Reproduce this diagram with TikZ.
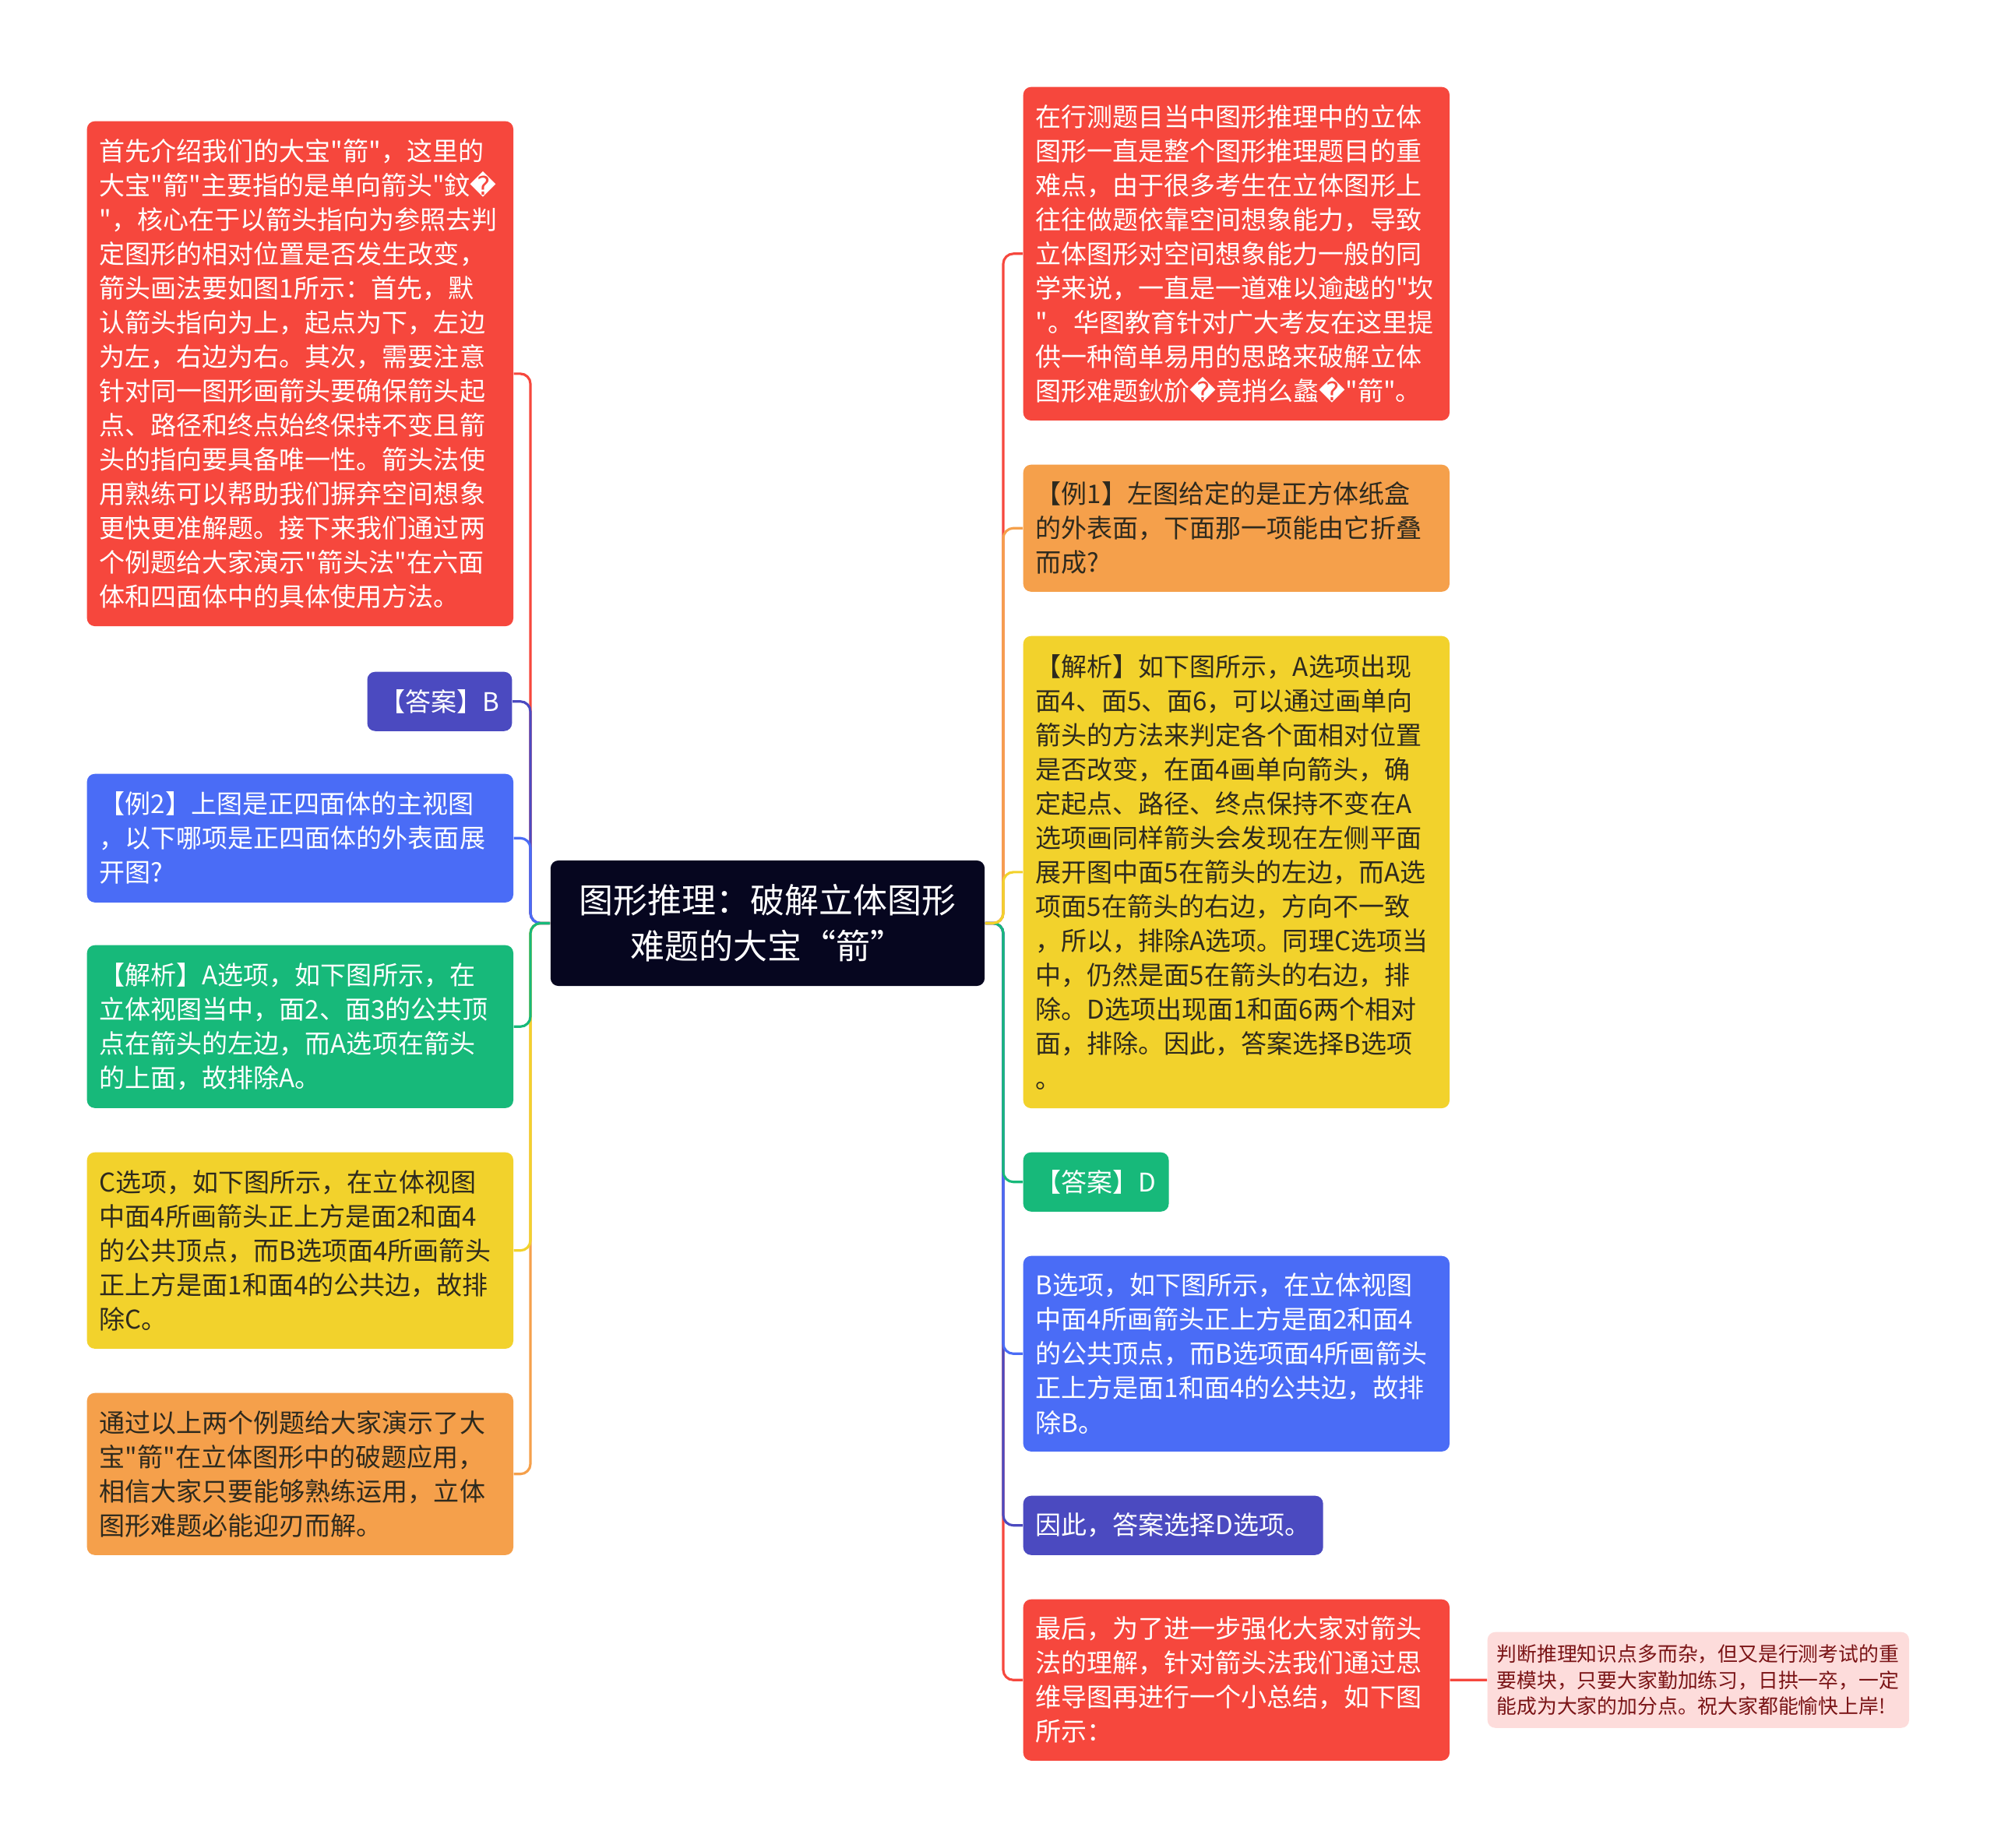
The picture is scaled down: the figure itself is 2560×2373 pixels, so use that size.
\documentclass[tikz,border=0pt]{standalone}
\usepackage{fontspec}
\setmainfont{Noto Sans CJK SC}[Ligatures=TeXOff]
\newfontfamily\symfont{DejaVu Sans}
\usepackage{xcolor}
\usetikzlibrary{calc}

\definecolor{cRed}{HTML}{F6473D}
\definecolor{cOrange}{HTML}{F5A04B}
\definecolor{cYellow}{HTML}{F2D22C}
\definecolor{cGreen}{HTML}{17B97A}
\definecolor{cBlue}{HTML}{4A6CF6}
\definecolor{cPurple}{HTML}{4B4AC0}
\definecolor{cNavy}{HTML}{06061F}
\definecolor{cPink}{HTML}{FDDCDB}
\definecolor{cDark}{HTML}{2E2A1E}
\definecolor{cMaroon}{HTML}{7A1416}

\newcommand{\badch}{{\symfont ^^^^fffd}}

\begin{document}
\begin{tikzpicture}[x=0.01cm, y=-0.01cm,
		leaf/.style={rounded corners=0.1cm, anchor=north west, text=white,
			align=left, text width=5.15cm, inner xsep=0.16cm, inner ysep=0pt,
			font=\fontsize{9.39}{12.52}\selectfont},
		tag/.style={leaf, text width=, minimum height=0.76cm},
		link/.style={line width=0.9pt, rounded corners=0.13cm}]
		\useasboundingbox (0,0) rectangle (2560,2373);

		% root
		\node[rounded corners=0.1cm, fill=cNavy, text=white, align=center,
			minimum width=5.57cm, minimum height=1.61cm,
			font=\fontsize{12.5}{16.8}\selectfont] (root) at (985.5,1185.5)
			{图形推理：破解立体图形\\难题的大宝“箭”};

		% left side
		\node[leaf, fill=cRed, minimum height=6.48cm] (l1) at (111,155)
			{首先介绍我们的大宝"箭"，这里的\\
			大宝"箭"主要指的是单向箭头"鈫\badch\\
			"，核心在于以箭头指向为参照去判\\
			定图形的相对位置是否发生改变，\\
			箭头画法要如图1所示：首先，默\\
			认箭头指向为上，起点为下，左边\\
			为左，右边为右。其次，需要注意\\
			针对同一图形画箭头要确保箭头起\\
			点、路径和终点始终保持不变且箭\\
			头的指向要具备唯一性。箭头法使\\
			用熟练可以帮助我们摒弃空间想象\\
			更快更准解题。接下来我们通过两\\
			个例题给大家演示"箭头法"在六面\\
			体和四面体中的具体使用方法。};
		\node[tag, fill=cPurple, anchor=north east] (l2) at (658,862) {【答案】B};
		\node[leaf, fill=cBlue, minimum height=1.65cm] (l3) at (111,993)
			{【例2】上图是正四面体的主视图\\
			，以下哪项是正四面体的外表面展\\
			开图?};
		\node[leaf, fill=cGreen, minimum height=2.09cm] (l4) at (111,1213)
			{【解析】A选项，如下图所示，在\\
			立体视图当中，面2、面3的公共顶\\
			点在箭头的左边，而A选项在箭头\\
			的上面，故排除A。};
		\node[leaf, fill=cYellow, text=cDark, minimum height=2.52cm] (l5) at (111,1479)
			{C选项，如下图所示，在立体视图\\
			中面4所画箭头正上方是面2和面4\\
			的公共顶点，而B选项面4所画箭头\\
			正上方是面1和面4的公共边，故排\\
			除C。};
		\node[leaf, fill=cOrange, text=cDark, minimum height=2.08cm] (l6) at (111,1788)
			{通过以上两个例题给大家演示了大\\
			宝"箭"在立体图形中的破题应用，\\
			相信大家只要能够熟练运用，立体\\
			图形难题必能迎刃而解。};

		% right side
		\node[leaf, fill=cRed, minimum height=4.28cm] (r1) at (1313,111)
			{在行测题目当中图形推理中的立体\\
			图形一直是整个图形推理题目的重\\
			难点，由于很多考生在立体图形上\\
			往往做题依靠空间想象能力，导致\\
			立体图形对空间想象能力一般的同\\
			学来说，一直是一道难以逾越的"坎\\
			"。华图教育针对广大考友在这里提\\
			供一种简单易用的思路来破解立体\\
			图形难题鈥斺\badch 竟捎么蠡\badch"箭"。};
		\node[leaf, fill=cOrange, text=cDark, minimum height=1.63cm] (r2) at (1313,596)
			{【例1】左图给定的是正方体纸盒\\
			的外表面，下面那一项能由它折叠\\
			而成?};
		\node[leaf, fill=cYellow, text=cDark, minimum height=6.06cm] (r3) at (1313,816)
			{【解析】如下图所示，A选项出现\\
			面4、面5、面6，可以通过画单向\\
			箭头的方法来判定各个面相对位置\\
			是否改变，在面4画单向箭头，确\\
			定起点、路径、终点保持不变在A\\
			选项画同样箭头会发现在左侧平面\\
			展开图中面5在箭头的左边，而A选\\
			项面5在箭头的右边，方向不一致\\
			，所以，排除A选项。同理C选项当\\
			中，仍然是面5在箭头的右边，排\\
			除。D选项出现面1和面6两个相对\\
			面，排除。因此，答案选择B选项\\
			。};
		\node[tag, fill=cGreen] (r4) at (1313,1479) {【答案】D};
		\node[leaf, fill=cBlue, minimum height=2.51cm] (r5) at (1313,1612)
			{B选项，如下图所示，在立体视图\\
			中面4所画箭头正上方是面2和面4\\
			的公共顶点，而B选项面4所画箭头\\
			正上方是面1和面4的公共边，故排\\
			除B。};
		\node[tag, fill=cPurple] (r6) at (1313,1920) {因此，答案选择D选项。};
		\node[leaf, fill=cRed, minimum height=2.07cm] (r7) at (1313,2053)
			{最后，为了进一步强化大家对箭头\\
			法的理解，针对箭头法我们通过思\\
			维导图再进行一个小总结，如下图\\
			所示：};
		\node[leaf, fill=cPink, text=cMaroon, text width=5.17cm, inner xsep=0.12cm,
			minimum height=1.23cm, font=\fontsize{7.34}{9.4}\selectfont] (p1) at (1909,2095)
			{判断推理知识点多而杂，但又是行测考试的重\\
			要模块，只要大家勤加练习，日拱一卒，一定\\
			能成为大家的加分点。祝大家都能愉快上岸!};

		% connectors
		\coordinate (lj) at (681,1185.5);
		\coordinate (rj) at (1288,1185.5);
		\foreach \n/\c in {l1/cRed,l6/cOrange,l2/cPurple,l5/cYellow,l3/cBlue,l4/cGreen}
			\draw[link, \c] (root.west) -- (lj) |- (\n.east);
		\foreach \n/\c in {r1/cRed,r7/cRed,r2/cOrange,r6/cPurple,r5/cBlue,r4/cGreen,r3/cYellow}
			\draw[link, \c] (root.east) -- (rj) |- (\n.west);
		\draw[link, cRed] (r7.east) -- (p1.west);
\end{tikzpicture}
\end{document}
